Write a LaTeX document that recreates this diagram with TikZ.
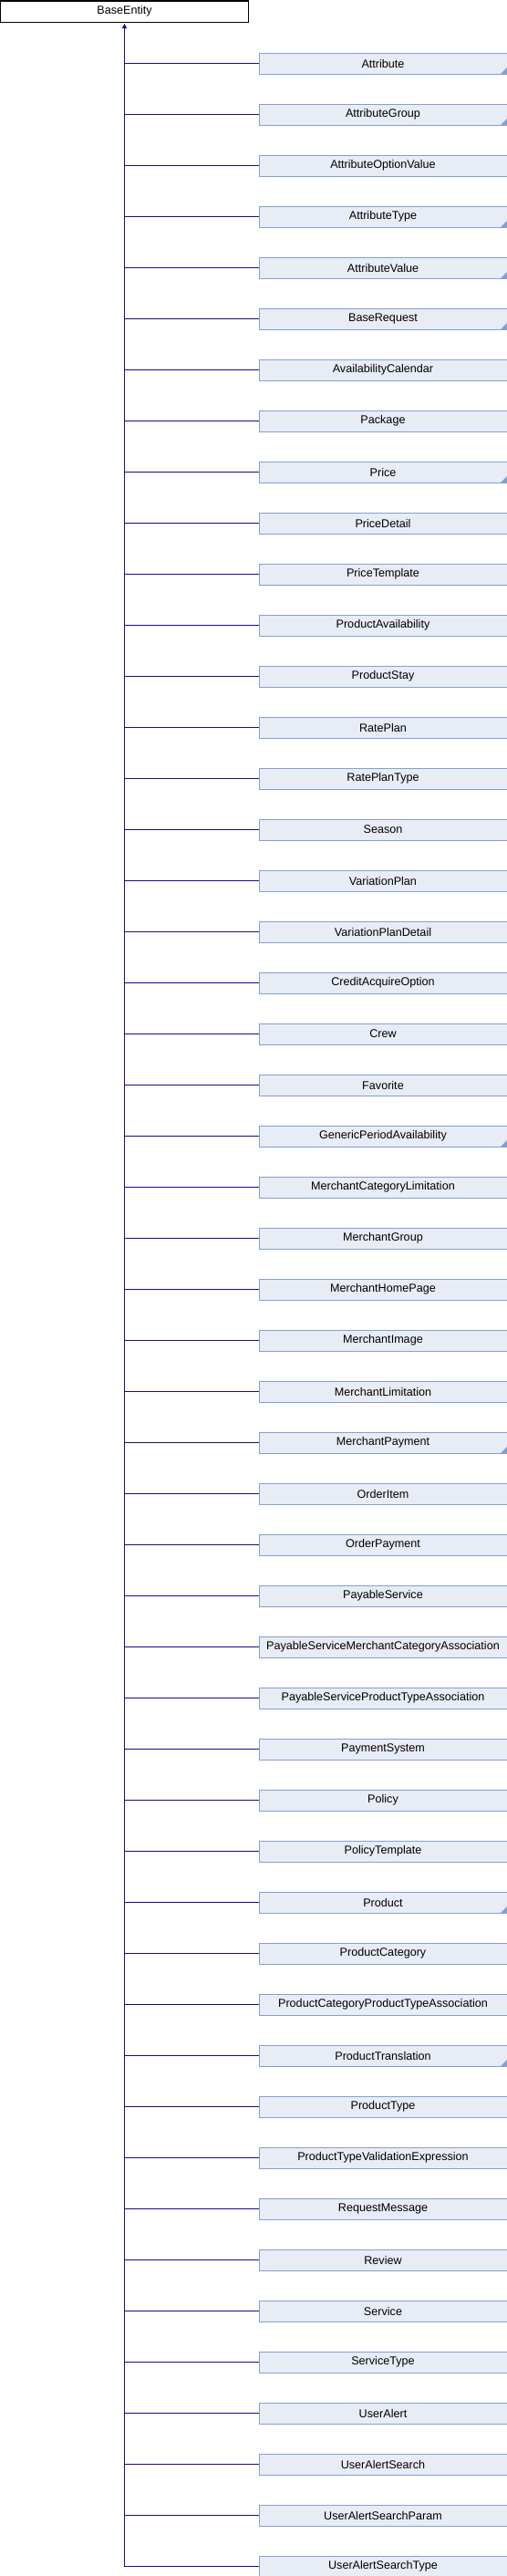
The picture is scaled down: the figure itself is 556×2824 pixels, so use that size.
\documentclass[tikz,border=0pt]{standalone}
\usepackage{fontspec}
\setmainfont{Liberation Sans}
\usetikzlibrary{positioning, arrows.meta}

\definecolor{boxfill}{HTML}{E8ECF5}
\definecolor{boxline}{HTML}{84A0D2}
\definecolor{linkblue}{HTML}{10108C}

\tikzset{
  baseclass/.style={draw=black, fill=white, rectangle, line width=1pt,
        minimum width=272pt, minimum height=23pt, inner sep=0pt,
        anchor=north west, font=\fontsize{12.6}{14}\selectfont},
  derived/.style={draw=boxline, fill=boxfill, rectangle, line width=1pt,
        minimum width=272pt, minimum height=23pt, inner sep=0pt,
        anchor=north west, font=\fontsize{12.6}{14}\selectfont},
  link/.style={draw=linkblue, line width=1pt},
}

\begin{document}
\begin{tikzpicture}[x=1pt, y=-1pt]
  \useasboundingbox (0,0) rectangle (556,2824);
  % base class
  \node[baseclass] (base) at (0,0.5) {BaseEntity};
  % derived classes
  \foreach \cls [count=\i] in {
      Attribute, AttributeGroup, AttributeOptionValue, AttributeType,
      AttributeValue, BaseRequest, AvailabilityCalendar, Package, Price,
      PriceDetail, PriceTemplate, ProductAvailability, ProductStay, RatePlan,
      RatePlanType, Season, VariationPlan, VariationPlanDetail,
      CreditAcquireOption, Crew, Favorite, GenericPeriodAvailability,
      MerchantCategoryLimitation, MerchantGroup, MerchantHomePage,
      MerchantImage, MerchantLimitation, MerchantPayment, OrderItem,
      OrderPayment, PayableService, PayableServiceMerchantCategoryAssociation,
      PayableServiceProductTypeAssociation, PaymentSystem, Policy,
      PolicyTemplate, Product, ProductCategory,
      ProductCategoryProductTypeAssociation, ProductTranslation, ProductType,
      ProductTypeValidationExpression, RequestMessage, Review, Service,
      ServiceType, UserAlert, UserAlertSearch, UserAlertSearchParam,
      UserAlertSearchType}{
    \node[derived] (c\i) at (283.5, {57.5+56*(\i-1)}) {\cls};
    \draw[link] (base.south |- c\i.west) -- (c\i.west);
  }
  % classes with further children
  \foreach \i in {1,2,4,5,6,9,22,28,37,40}{
    \fill[boxline] ([xshift=-0.5pt, yshift=0.5pt]c\i.south east)
      -- ++(0,-7) -- ++(-7,7) -- cycle;
  }
  % trunk with arrow
  \draw[link, {Triangle[width=5pt, length=5pt]}-, shorten <=1.5pt]
    (base.south) -- (base.south |- c50.west);
\end{tikzpicture}
\end{document}
